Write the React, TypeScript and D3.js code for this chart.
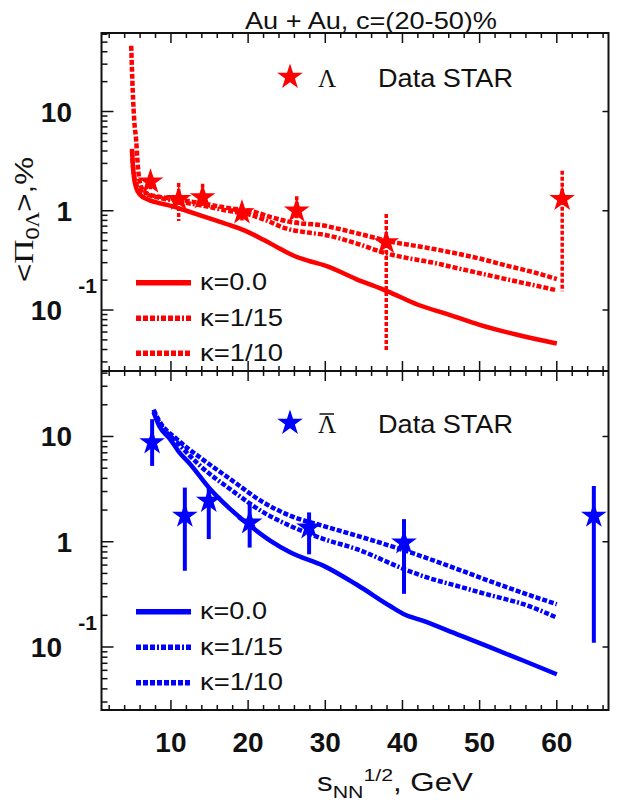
import React from "react";
import * as d3 from "d3";

// ---- STAR data: Λ hyperon global polarisation (%) vs collision energy (GeV)
const lamEnergy = [7.35, 11.0, 14.1, 19.2, 26.3, 37.9, 60.7];
const lamPol = [1.96, 1.31, 1.36, 0.96, 1.0, 0.48, 1.31];
const lamHi = [2.3, 1.9, 1.87, 1.15, 1.4, 0.93, 2.53];
const lamLo = [1.65, 0.79, 1.07, 0.8, 0.74, 0.039, 0.155];

// ---- STAR data: anti-Λ
const alamEnergy = [7.56, 11.8, 14.9, 20.2, 27.9, 40.2, 64.8];
const alamPol = [8.77, 1.76, 2.44, 1.52, 1.36, 0.98, 1.76];
const alamHi = [14.6, 3.27, 3.3, 2.36, 1.9, 1.64, 3.39];
const alamLo = [5.25, 0.53, 1.06, 0.88, 0.76, 0.32, 0.11];

// ---- model curves, Λ
const lamK0Energy = [4.95, 5.05, 5.2, 5.5, 6, 7, 8, 10, 12, 14, 16, 18, 20, 22, 24, 26, 28, 30, 34, 38, 42, 46, 50, 55, 60];
const lamK0Pol = [4.2, 3.0, 2.2, 1.7, 1.45, 1.3, 1.22, 1.12, 1.0, 0.89, 0.79, 0.7, 0.61, 0.51, 0.42, 0.35, 0.31, 0.28, 0.205, 0.155, 0.113, 0.09, 0.071, 0.056, 0.046];
const lamK15Energy = [4.95, 5.05, 5.2, 5.5, 6, 7, 8, 10, 12, 14, 16, 18, 20, 22, 25, 28, 30, 34, 38, 41, 44, 47, 50, 54, 57, 60];
const lamK15Pol = [4.0, 3.0, 2.3, 1.85, 1.6, 1.45, 1.38, 1.28, 1.2, 1.13, 1.05, 0.98, 0.92, 0.82, 0.66, 0.6, 0.57, 0.47, 0.37, 0.33, 0.3, 0.265, 0.235, 0.2, 0.178, 0.158];
const lamK10Energy = [4.85, 5.05, 5.25, 5.5, 5.65, 5.85, 6.3, 7.3, 8.6, 10, 12, 14, 16.4, 18, 20.3, 23, 25.5, 29.8, 32, 35.4, 38.4, 42.7, 47.1, 50, 53.5, 57, 60];
const lamK10Pol = [46, 16, 8, 5, 3.3, 2.2, 1.65, 1.45, 1.38, 1.33, 1.26, 1.19, 1.1, 1.05, 1.0, 0.86, 0.77, 0.71, 0.65, 0.56, 0.49, 0.43, 0.37, 0.33, 0.28, 0.24, 0.205];

// ---- model curves, anti-Λ
const alamK0Energy = [7.75, 8.5, 9.9, 11, 12.5, 15.1, 17.7, 20.3, 22.9, 25.5, 29.8, 34.1, 38.4, 40.2, 42.7, 47.1, 51.4, 55.7, 60];
const alamK0Pol = [17, 12.5, 9.4, 7.2, 5.45, 3.15, 2.04, 1.41, 1.02, 0.79, 0.59, 0.39, 0.245, 0.205, 0.177, 0.132, 0.099, 0.074, 0.055];
const alamK15Energy = [7.75, 8.5, 10.8, 13.8, 17.7, 22, 25.5, 29.8, 34.1, 40.2, 42.7, 47.1, 51.4, 55.7, 60];
const alamK15Pol = [17.5, 13.5, 8.8, 5.25, 3.15, 1.9, 1.41, 1.06, 0.85, 0.55, 0.47, 0.38, 0.31, 0.255, 0.19];
const alamK10Energy = [7.75, 8.5, 10.8, 13.8, 17.7, 22, 25.5, 29.8, 34.1, 40.2, 47.1, 51.4, 55.7, 60];
const alamK10Pol = [18, 14, 9.4, 6.3, 3.93, 2.36, 1.76, 1.41, 1.14, 0.83, 0.55, 0.42, 0.325, 0.255];

// ---- axes
const xTickValues = [10, 20, 30, 40, 50, 60];
const xTickLabels = ["10", "20", "30", "40", "50", "60"];
const yTickValues = [10, 1, 0.1];
const legendLabels = ["κ=0.0", "κ=1/15", "κ=1/10"];

const RED = "#ff0000";
const BLUE = "#0000ff";
const INK = "#111";
const SANS = "'Liberation Sans', Arial, Helvetica, sans-serif";
const SERIF = "'Liberation Serif', 'Times New Roman', serif";

const LEFT = 101.5;
const RIGHT = 608.5;
const TOP = 33;
const MID = 371;
const BOTTOM = 710;

const x = d3.scaleLinear().domain([1, 66.7]).range([LEFT, RIGHT]);
const yTop = d3.scaleLog().domain([0.0243, 61.8]).range([MID, TOP]);
const yBot = d3.scaleLog().domain([0.0252, 41.9]).range([BOTTOM, MID]);

const dashes = ["", "5 2 5 2 5 2 2 2", "5 2"];

type Panel = {
  y: d3.ScaleLogarithmic<number, number>;
  color: string;
  curves: { e: number[]; p: number[] }[];
  data: { e: number[]; p: number[]; hi: number[]; lo: number[] };
  errDash: string;
  errWidth: number;
  top: number;
  bottom: number;
  legendY: number[];
  starY: number;
  anti: boolean;
};

const panels: Panel[] = [
  {
    y: yTop,
    color: RED,
    curves: [
      { e: lamK0Energy, p: lamK0Pol },
      { e: lamK15Energy, p: lamK15Pol },
      { e: lamK10Energy, p: lamK10Pol },
    ],
    data: { e: lamEnergy, p: lamPol, hi: lamHi, lo: lamLo },
    errDash: "4 2",
    errWidth: 3.5,
    top: TOP,
    bottom: MID,
    legendY: [282.7, 318.3, 353.3],
    starY: 77,
    anti: false,
  },
  {
    y: yBot,
    color: BLUE,
    curves: [
      { e: alamK0Energy, p: alamK0Pol },
      { e: alamK15Energy, p: alamK15Pol },
      { e: alamK10Energy, p: alamK10Pol },
    ],
    data: { e: alamEnergy, p: alamPol, hi: alamHi, lo: alamLo },
    errDash: "",
    errWidth: 4,
    top: MID,
    bottom: BOTTOM,
    legendY: [611.7, 647.3, 682.7],
    starY: 423,
    anti: true,
  },
];

const starPath = (r: number) => d3.symbol(d3.symbolStar, (r * r) / 0.8908130915292852)() as string;

function minorLogTicks(y: d3.ScaleLogarithmic<number, number>) {
  const [lo, hi] = y.domain();
  const out: number[] = [];
  for (let k = -3; k <= 3; k++) {
    for (let m = 2; m <= 9; m++) {
      const v = m * Math.pow(10, k);
      if (v > lo && v < hi) out.push(v);
    }
  }
  return out;
}

function PanelView({ pn, idx }: { pn: Panel; idx: number }) {
  const xMinor = d3.range(2, 67, 2).filter((v) => v % 10 !== 0);
  const clipId = `clip-${idx}`;
  return (
    <g>
      <defs>
        <clipPath id={clipId}>
          <rect x={LEFT} y={pn.top} width={RIGHT - LEFT} height={pn.bottom - pn.top} />
        </clipPath>
      </defs>

      {/* x ticks on the top and bottom edges of the panel */}
      {xMinor.map((v) => (
        <g key={`xm${v}`} stroke={INK} strokeWidth={1.5}>
          <line x1={x(v)} x2={x(v)} y1={pn.top} y2={pn.top + 5} />
          <line x1={x(v)} x2={x(v)} y1={pn.bottom} y2={pn.bottom - 5} />
        </g>
      ))}
      {xTickValues.map((v) => (
        <g key={`xM${v}`} stroke={INK} strokeWidth={1.5}>
          <line x1={x(v)} x2={x(v)} y1={pn.top} y2={pn.top + 10} />
          <line x1={x(v)} x2={x(v)} y1={pn.bottom} y2={pn.bottom - 10} />
        </g>
      ))}

      {/* y ticks */}
      {minorLogTicks(pn.y).map((v) => (
        <line key={`ym${v}`} x1={LEFT} x2={LEFT + 6} y1={pn.y(v)} y2={pn.y(v)} stroke={INK} strokeWidth={1.5} />
      ))}
      {yTickValues.map((v) => (
        <g key={`yM${v}`} stroke={INK} strokeWidth={1.5}>
          <line x1={LEFT} x2={LEFT + 12} y1={pn.y(v)} y2={pn.y(v)} />
          <line x1={RIGHT} x2={RIGHT - 6} y1={pn.y(v)} y2={pn.y(v)} />
        </g>
      ))}

      {/* y tick labels */}
      <g fontFamily={SANS} fontWeight="bold" fill={INK} textAnchor="end">
        <text x={72} y={pn.y(10) + 10} fontSize={28}>10</text>
        <text x={72} y={pn.y(1) + 10} fontSize={28}>1</text>
        <text x={62} y={pn.y(0.1) + 10} fontSize={28}>10</text>
        <text x={97} y={pn.y(0.1) - 17} fontSize={21}>-1</text>
      </g>

      {/* model curves */}
      <g clipPath={`url(#${clipId})`} fill="none" stroke={pn.color} strokeWidth={4.5}>
        {pn.curves.map((c, i) => {
          const pts = c.e.map((e, j) => [x(e), pn.y(c.p[j])] as [number, number]);
          const d = d3.line().curve(d3.curveMonotoneX)(pts) as string;
          return <path key={i} d={d} strokeDasharray={dashes[i] || undefined} />;
        })}
      </g>

      {/* error bars */}
      <g stroke={pn.color} strokeWidth={pn.errWidth} strokeDasharray={pn.errDash || undefined}>
        {pn.data.e.map((e, i) => (
          <line key={i} x1={x(e)} x2={x(e)} y1={pn.y(pn.data.hi[i])} y2={pn.y(pn.data.lo[i])} />
        ))}
      </g>

      {/* data stars */}
      <g fill={pn.color}>
        {pn.data.e.map((e, i) => (
          <path key={i} d={starPath(13.5)} transform={`translate(${x(e)},${pn.y(pn.data.p[i])})`} />
        ))}
      </g>

      {/* legend: data */}
      <path d={starPath(13.5)} fill={pn.color} transform={`translate(290,${pn.starY})`} />
      <text x={318} y={pn.starY + 10} fontFamily={SERIF} fontSize={25} fill={INK}>Λ</text>
      {pn.anti && (
        <line x1={319.5} x2={334} y1={pn.starY - 9} y2={pn.starY - 9} stroke={INK} strokeWidth={1.5} />
      )}
      <text x={378} y={pn.starY + 10} fontFamily={SANS} fontSize={25} fill={INK} textLength={135} lengthAdjust="spacingAndGlyphs">
        Data STAR
      </text>

      {/* legend: model */}
      {legendLabels.map((lab, i) => (
        <g key={lab}>
          <line
            x1={136}
            x2={191}
            y1={pn.legendY[i]}
            y2={pn.legendY[i]}
            stroke={pn.color}
            strokeWidth={5.5}
            strokeDasharray={dashes[i] || undefined}
          />
          <text
            x={200}
            y={pn.legendY[i] + 7.5}
            fontFamily={SANS}
            fontSize={24}
            fill={INK}
            textLength={i === 0 ? 67 : 83}
            lengthAdjust="spacingAndGlyphs"
          >
            {lab}
          </text>
        </g>
      ))}
    </g>
  );
}

export default function App() {
  return (
    <svg
      width={620}
      height={802}
      viewBox="0 0 620 802"
      style={{ display: "block", position: "absolute", left: 0, top: 0, background: "#fff" }}
    >
      <rect x={0} y={0} width={620} height={802} fill="#fff" />

      <text x={245} y={29} fontFamily={SANS} fontSize={24} fill={INK} textLength={252} lengthAdjust="spacingAndGlyphs">
        Au + Au, c=(20-50)%
      </text>

      {panels.map((pn, i) => (
        <PanelView key={i} pn={pn} idx={i} />
      ))}

      {/* frame */}
      <g fill="none" stroke={INK} strokeWidth={2}>
        <rect x={LEFT} y={TOP} width={RIGHT - LEFT} height={BOTTOM - TOP} />
        <line x1={LEFT} x2={RIGHT} y1={MID} y2={MID} />
      </g>

      {/* x tick labels */}
      <g fontFamily={SANS} fontWeight="bold" fontSize={28} fill={INK} textAnchor="middle">
        {xTickValues.map((v, i) => (
          <text key={v} x={x(v)} y={752}>{xTickLabels[i]}</text>
        ))}
      </g>

      {/* x axis title */}
      <text x={317} y={791} fontFamily={SANS} fontSize={25} fill={INK} textLength={156} lengthAdjust="spacingAndGlyphs">
        s<tspan fontSize={17} dy={7}>NN</tspan>
        <tspan fontSize={17} dy={-17}>1/2</tspan>
        <tspan dy={10}>, GeV</tspan>
      </text>

      {/* y axis title */}
      <text
        transform="translate(32.5,282) rotate(-90)"
        fontFamily={SANS}
        fontSize={26}
        fill={INK}
        textLength={125}
        lengthAdjust="spacingAndGlyphs"
      >
        &lt;<tspan fontFamily={SERIF} fontSize={28}>Π</tspan>
        <tspan fontSize={18} dy={6}>0</tspan>
        <tspan fontFamily={SERIF} fontSize={18}>Λ</tspan>
        <tspan dy={-6}>&gt;,%</tspan>
      </text>
    </svg>
  );
}
